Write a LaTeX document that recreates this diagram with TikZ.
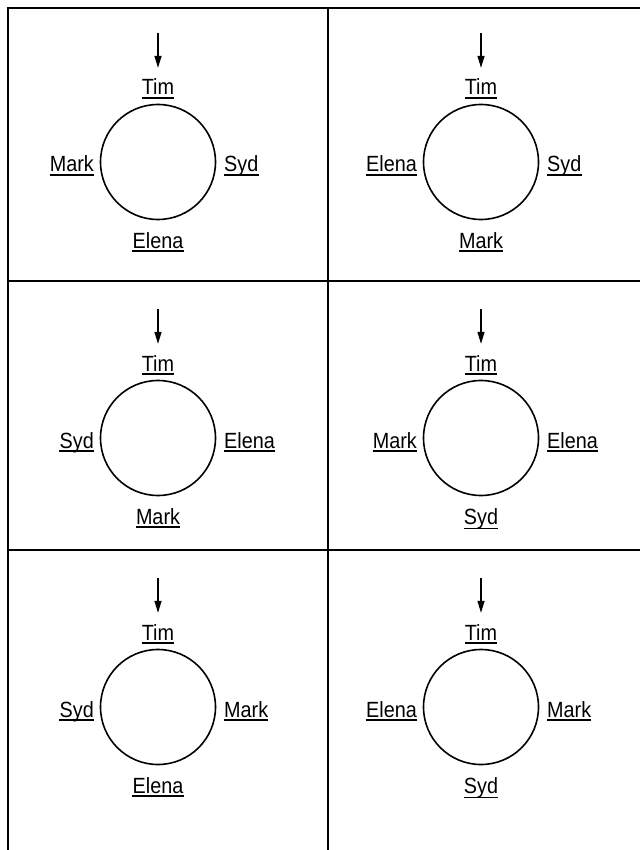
\documentclass[tikz,border=0pt]{standalone}
\usepackage{fontspec}
\setmainfont{Liberation Sans}[FakeStretch=0.9]
\usetikzlibrary{arrows.meta}
\tikzset{
  grid/.style={line width=2pt, line cap=rect},
  circ/.style={circle, draw, line width=1.6pt, minimum size=115pt, inner sep=0pt},
  lab/.style={inner sep=0pt, font=\fontsize{22}{24}\selectfont},
  ul/.style={line width=1.5pt},
  arr/.style={line width=1.4pt, -{Triangle[length=12pt,width=7pt]}, shorten >=11pt},
}
\newcommand\ulnode[2]{\draw[ul] ([yshift=-#2pt]#1.base west) -- ([yshift=-#2pt]#1.base east);}
\newcommand\cell[7]{% name, cx, cy, left, right, bottom, bottom depth
  \node[circ] (c#1) at (#2,#3) {};
  \node[lab, anchor=base] (t#1) at (#2,#3-67) {Tim};
  \coordinate (a#1) at (#2,#3-129);
  \draw[arr] (a#1) -- (t#1);
  \node[lab, anchor=base east] (l#1) at (#2-64,#3+10) {#4};
  \node[lab, anchor=base west] (r#1) at (#2+66,#3+10) {#5};
  \node[lab, anchor=base] (b#1) at (#2,#3+86) {#6};
  \ulnode{t#1}{3}
  \ulnode{l#1}{3}
  \ulnode{r#1}{3}
  \ulnode{b#1}{#7}
}
\begin{document}
\begin{tikzpicture}[x=1pt,y=-1pt]
\useasboundingbox (0,0) rectangle (639,850);
\draw[grid] (8,860) -- (8,8) -- (650,8);
\draw[grid] (328,8) -- (328,860);
\draw[grid] (8,281) -- (650,281);
\draw[grid] (8,550) -- (650,550);
\cell{11}{158}{162}{Mark}{Syd}{Elena}{3}
\cell{12}{481}{162}{Elena}{Syd}{Mark}{3}
\cell{21}{158}{438}{Syd}{Elena}{Mark}{3}
\cell{22}{481}{438}{Mark}{Elena}{Syd}{4.5}
\cell{31}{158}{707}{Syd}{Mark}{Elena}{3}
\cell{32}{481}{707}{Elena}{Mark}{Syd}{4.5}
\end{tikzpicture}
\end{document}
